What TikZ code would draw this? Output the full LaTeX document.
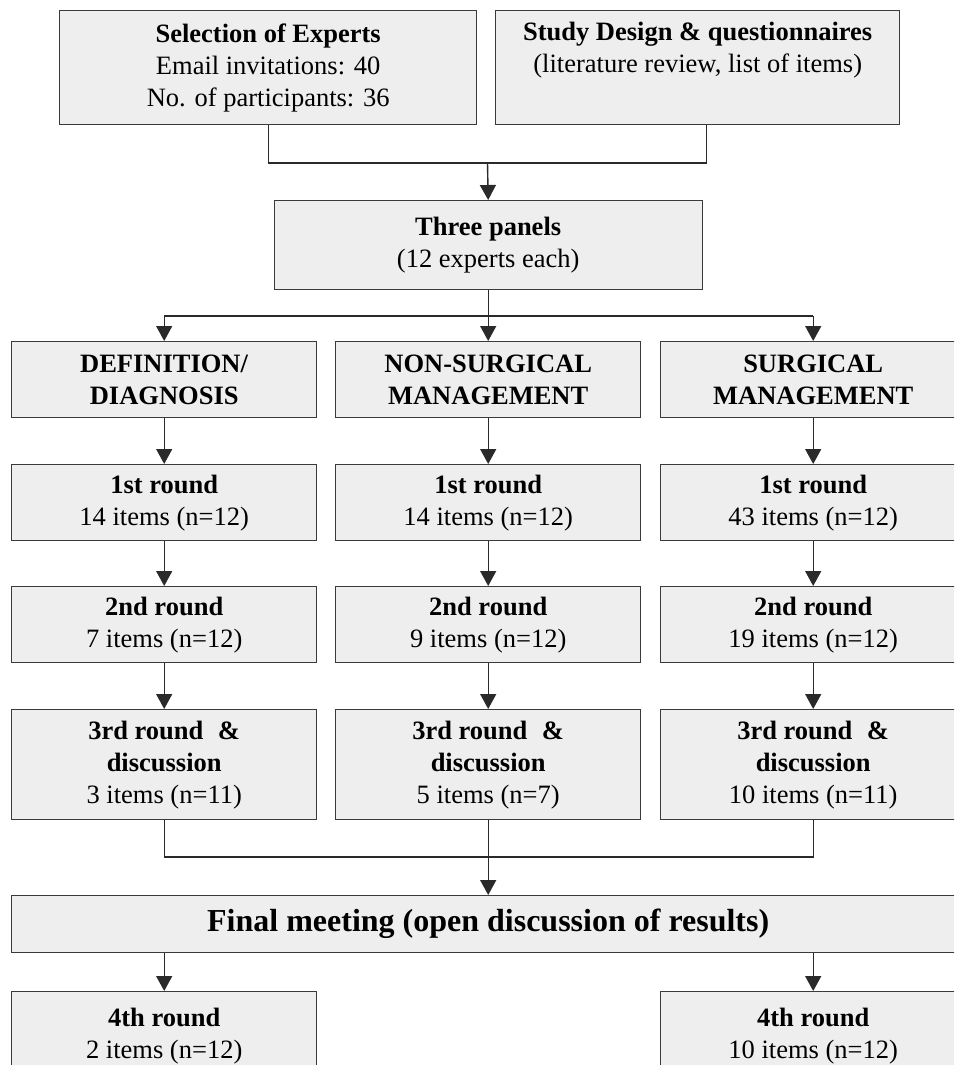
\documentclass[tikz,border=0pt]{standalone}
\usepackage{fontspec}
\setmainfont{Liberation Serif}
\usetikzlibrary{arrows.meta}
\definecolor{boxfill}{HTML}{EEEEEE}
\definecolor{boxline}{HTML}{3A3A3A}
\definecolor{connline}{HTML}{2A2A2A}
\begin{document}
\begin{tikzpicture}[x=1pt,y=-1pt,
  box/.style={draw=boxline, fill=boxfill, line width=1.4pt, inner sep=0pt, align=center,
    font=\fontsize{26.5}{32}\selectfont, anchor=north west},
  colbox/.style={box, minimum width=305pt},
  conn/.style={draw=connline, line width=1.4pt},
  arr/.style={conn, -{Triangle[width=16pt,length=15pt]}}]
\useasboundingbox (0,0) rectangle (954,1065);
\clip (0,0) rectangle (954,1065);

% top row
\node[box, minimum width=417pt, minimum height=114pt] (sel) at (59,10)
  {\textbf{Selection of Experts}\\Email invitations: 40\\No. of participants: 36};
\node[box, minimum width=404pt, minimum height=114pt] (study) at (495,10)
  {\textbf{Study Design \& questionnaires}\\(literature review, list of items)\\\strut};

\node[box, minimum width=428pt, minimum height=89pt] (three) at (273.5,200)
  {\textbf{Three panels}\\(12 experts each)};

% panel row
\node[colbox, minimum height=76pt] (def)  at (11,341)  {\textbf{DEFINITION/}\\\textbf{DIAGNOSIS}};
\node[colbox, minimum height=76pt] (non)  at (335,341) {\textbf{NON-SURGICAL}\\\textbf{MANAGEMENT}};
\node[colbox, minimum height=76pt] (surg) at (660,341) {\textbf{SURGICAL}\\\textbf{MANAGEMENT}};

% first round
\node[colbox, minimum height=76pt] (a1) at (11,464)  {\textbf{1st round}\\14 items (n=12)};
\node[colbox, minimum height=76pt] (b1) at (335,464) {\textbf{1st round}\\14 items (n=12)};
\node[colbox, minimum height=76pt] (c1) at (660,464) {\textbf{1st round}\\43 items (n=12)};

% second round
\node[colbox, minimum height=76pt] (a2) at (11,586)  {\textbf{2nd round}\\7 items (n=12)};
\node[colbox, minimum height=76pt] (b2) at (335,586) {\textbf{2nd round}\\9 items (n=12)};
\node[colbox, minimum height=76pt] (c2) at (660,586) {\textbf{2nd round}\\19 items (n=12)};

% third round
\node[colbox, minimum height=110pt] (a3) at (11,709)  {\textbf{3rd round\hspace{0.55em}\&}\\\textbf{discussion}\\3 items (n=11)};
\node[colbox, minimum height=110pt] (b3) at (335,709) {\textbf{3rd round\hspace{0.55em}\&}\\\textbf{discussion}\\5 items (n=7)};
\node[colbox, minimum height=110pt] (c3) at (660,709) {\textbf{3rd round\hspace{0.55em}\&}\\\textbf{discussion}\\10 items (n=11)};

% final meeting
\node[box, minimum width=953pt, minimum height=57pt, font=\fontsize{32}{38}\selectfont] (final) at (11,895)
  {\textbf{Final meeting (open discussion of results)}};

% fourth round
\node[colbox, minimum height=88pt] (a4) at (11,991)  {\textbf{4th round}\\2 items (n=12)};
\node[colbox, minimum height=88pt] (c4) at (660,991) {\textbf{4th round}\\10 items (n=12)};

% connectors
\coordinate (j1) at (487.5,163);
\coordinate (j2) at (487.5,316);
\coordinate (j3) at (487.5,857);

\draw[conn] (sel.south) |- (j1) -| ([xshift=9pt]study.south);
\draw[arr] (j1) -- (three.north);

\draw[arr] (three.south) -- (non.north);
\draw[conn] (def.north |- j2) -- (surg.north |- j2);
\draw[arr] (def.north |- j2) -- (def.north);
\draw[arr] (surg.north |- j2) -- (surg.north);

\draw[arr] (def.south) -- (a1.north);
\draw[arr] (non.south) -- (b1.north);
\draw[arr] (surg.south) -- (c1.north);
\draw[arr] (a1.south) -- (a2.north);
\draw[arr] (b1.south) -- (b2.north);
\draw[arr] (c1.south) -- (c2.north);
\draw[arr] (a2.south) -- (a3.north);
\draw[arr] (b2.south) -- (b3.north);
\draw[arr] (c2.south) -- (c3.north);

\draw[conn] (a3.south) |- (j3) -| (c3.south);
\draw[arr] (b3.south) -- (final.north);

\draw[arr] (final.south -| a4.north) -- (a4.north);
\draw[arr] (final.south -| c4.north) -- (c4.north);
\end{tikzpicture}
\end{document}
